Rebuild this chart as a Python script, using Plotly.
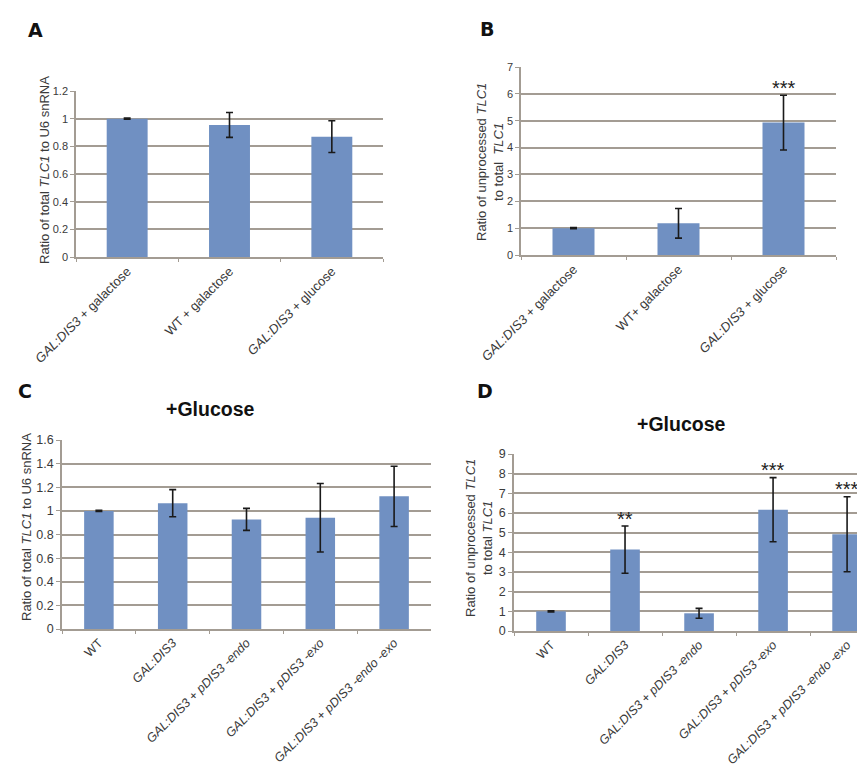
import plotly.graph_objects as go

W, H = 865, 767

# ---------------- data ----------------
a_cats = ["<i>GAL:DIS3</i> + galactose", "WT + galactose", "<i>GAL:DIS3</i> + glucose"]
a_vals = [1.0, 0.955, 0.87]
a_errs = [0.004, 0.09, 0.115]

b_cats = ["<i>GAL:DIS3</i> + galactose", "WT+ galactose", "<i>GAL:DIS3</i> + glucose"]
b_vals = [1.0, 1.18, 4.93]
b_errs = [0.02, 0.55, 1.02]
b_sig = ["", "", "***"]

cd_cats = ["WT", "<i>GAL:DIS3</i>", "<i>GAL:DIS3</i> + <i>pDIS3 -endo</i>",
           "<i>GAL:DIS3</i> + <i>pDIS3 -exo</i>", "<i>GAL:DIS3</i> + <i>pDIS3 -endo -exo</i>"]
c_vals = [1.0, 1.065, 0.928, 0.942, 1.123]
c_errs = [0.004, 0.115, 0.093, 0.29, 0.255]

d_vals = [1.0, 4.14, 0.9, 6.17, 4.92]
d_errs = [0.03, 1.2, 0.25, 1.63, 1.91]
d_sig = ["", "**", "", "***", "***"]

a_ticks = [0, 0.2, 0.4, 0.6, 0.8, 1, 1.2]
b_ticks = [0, 1, 2, 3, 4, 5, 6, 7]
c_ticks = [0, 0.2, 0.4, 0.6, 0.8, 1, 1.2, 1.4, 1.6]
d_ticks = [0, 1, 2, 3, 4, 5, 6, 7, 8, 9]

# ---------------- style ----------------
BAR = "#7090C2"
GRID = "#A39C93"
TXT = "#3a3a3a"
FONT = "Liberation Sans, Arial, sans-serif"


def xd(p0, p1):
    return [p0 / W, p1 / W]


def yd(top, bot):
    return [1 - bot / H, 1 - top / H]


fig = go.Figure()


def add_panel(idx, cats, vals, errs, width):
    sfx = "" if idx == 1 else str(idx)
    fig.add_trace(go.Bar(
        x=cats, y=vals, width=width, marker=dict(color=BAR, line=dict(width=0)),
        error_y=dict(type="data", array=errs, visible=True, color="#1a1a1a",
                     thickness=1.6, width=3.5),
        xaxis="x" + sfx, yaxis="y" + sfx, showlegend=False, hoverinfo="skip"))


add_panel(1, a_cats, a_vals, a_errs, 0.4)
add_panel(2, b_cats, b_vals, b_errs, 0.4)
add_panel(3, cd_cats, c_vals, c_errs, 0.4)
add_panel(4, cd_cats, d_vals, d_errs, 0.4)


def xaxis(dom, anchor, fs, rng=None):
    d = dict(domain=dom, anchor=anchor, type="category", showline=True, linecolor=GRID,
             linewidth=1.5, ticks="outside", ticklen=3, tickcolor=GRID, tickson="boundaries",
             showgrid=False, tickangle=-45, automargin=False,
             tickfont=dict(size=fs, color=TXT, family=FONT), fixedrange=True)
    if rng is not None:
        d["range"] = rng
    return d


def yaxis(dom, anchor, ticks, top, fs):
    return dict(domain=dom, anchor=anchor, range=[0, top], tickvals=ticks,
                ticktext=[f"{t:g}" for t in ticks], showgrid=True, gridcolor=GRID,
                gridwidth=1.5, showline=True, linecolor=GRID, linewidth=1.5,
                ticks="outside", ticklen=4, tickcolor=GRID, zeroline=False, automargin=False,
                tickfont=dict(size=fs, color=TXT, family=FONT), fixedrange=True)


fig.update_layout(
    width=W, height=H, margin=dict(l=0, r=0, t=0, b=0, autoexpand=False),
    paper_bgcolor="white", plot_bgcolor="white",
    font=dict(family=FONT, color=TXT),
    bargap=0.6,
    xaxis=xaxis(xd(68, 375), "y", 13),
    yaxis=yaxis(yd(83, 249), "x", a_ticks, 1.2001, 11),
    xaxis2=xaxis(xd(513, 828), "y2", 13),
    yaxis2=yaxis(yd(59, 247), "x2", b_ticks, 7.001, 11),
    xaxis3=xaxis(xd(54, 423), "y3", 12.5),
    yaxis3=yaxis(yd(432, 621), "x3", c_ticks, 1.6001, 12.5),
    xaxis4=xaxis(xd(506, 865), "y4", 12.5, rng=[-0.5, 4.35]),
    yaxis4=yaxis(yd(446, 623), "x4", d_ticks, 9.001, 12.5),
)

ann = []
# panel letters
for lab, px, py in [("A", 27, 22), ("B", 479, 21), ("C", 17, 383), ("D", 477, 383)]:
    ann.append(dict(text=f"<b>{lab}</b>", x=px / W, y=1 - py / H, xref="paper", yref="paper",
                    showarrow=False, font=dict(size=19, color="#111", family="DejaVu Sans"),
                    xanchor="center", yanchor="middle"))
# titles
for px, py in [(202, 401), (673, 416)]:
    ann.append(dict(text="<b>+Glucose</b>", x=px / W, y=1 - py / H, xref="paper", yref="paper",
                    showarrow=False, font=dict(size=19.5, color="#111", family=FONT),
                    xanchor="center", yanchor="middle"))
# y axis titles
for txt, px, py in [("Ratio of total <i>TLC1</i> to U6 snRNA", 37, 162),
                    ("Ratio of unprocessed <i>TLC1</i><br>to total  <i>TLC1</i>", 482, 154),
                    ("Ratio of total <i>TLC1</i> to U6 snRNA", 18, 519),
                    ("Ratio of unprocessed <i>TLC1</i><br>to total <i>TLC1</i>", 471, 530)]:
    ann.append(dict(text=txt, x=px / W, y=1 - py / H, xref="paper", yref="paper",
                    showarrow=False, textangle=-90, font=dict(size=13, color=TXT, family=FONT),
                    xanchor="center", yanchor="middle"))
# significance stars
for cats, vals, errs, sig, xr, yr, off in [(b_cats, b_vals, b_errs, b_sig, "x2", "y2", 0.27),
                                           (cd_cats, d_vals, d_errs, d_sig, "x4", "y4", 0.37)]:
    for c, v, e, s in zip(cats, vals, errs, sig):
        if s:
            ann.append(dict(text=s, x=c, y=v + e + off, xref=xr, yref=yr, showarrow=False,
                            font=dict(size=20, color="#222", family=FONT),
                            xanchor="center", yanchor="middle"))
fig.update_layout(annotations=ann)

fig.write_html("out.html")
